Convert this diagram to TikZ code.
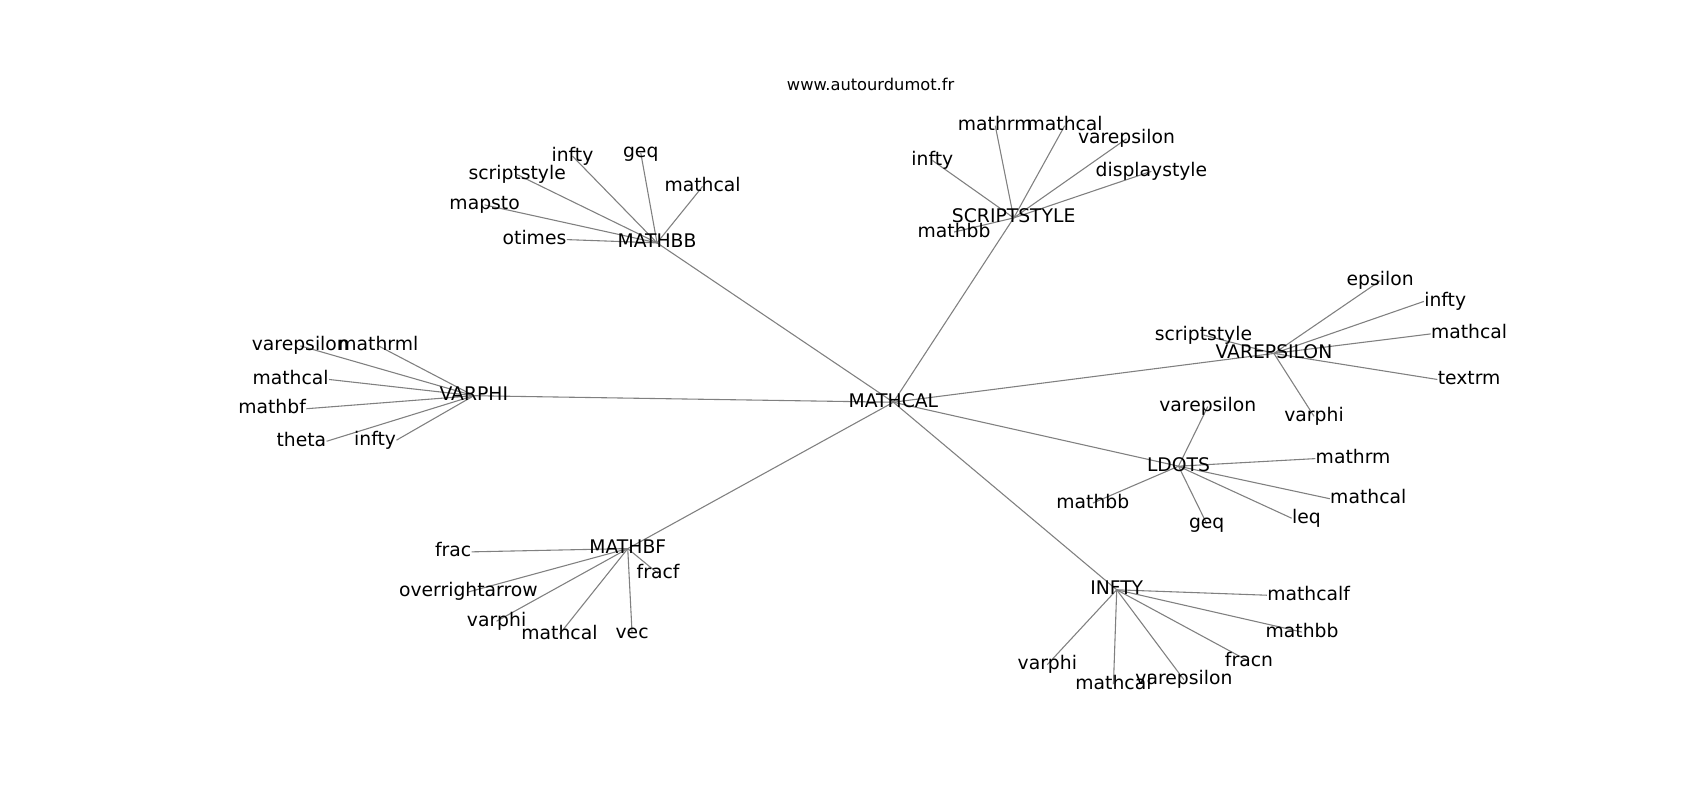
\documentclass[tikz,border=0pt]{standalone}
\usepackage{fontspec}
\setmainfont{DejaVu Sans}
\pgfdeclarelayer{background}
\pgfsetlayers{background,main}
\tikzstyle{word}=[inner sep=0pt, text height=6.6pt, text depth=2pt, font=\fontsize{8.65}{10}\selectfont]
\tikzstyle{link}=[draw=gray, line width=0.5pt]

\begin{document}
\begin{tikzpicture}[x=0.5pt, y=-0.5pt]
  \useasboundingbox (0,0) rectangle (1568,738);
  \node[inner sep=0pt, font=\fontsize{7.5}{9}\selectfont] (title) at (803,77.5) {www.autourdumot.fr};

  % hubs
  \node[word] (mathcal) at (824,371) {MATHCAL};
  \node[word] (mathbb) at (606,224) {MATHBB};
  \node[word] (scriptstyle) at (935,201) {SCRIPTSTYLE};
  \node[word] (varphi) at (437,365) {VARPHI};
  \node[word] (varepsilon) at (1175,326) {VAREPSILON};
  \node[word] (ldots) at (1087,430) {LDOTS};
  \node[word] (mathbf) at (579,506) {MATHBF};
  \node[word] (infty) at (1030,544) {INFTY};

  % MATHBB
  \node[word] (bb-infty) at (528,144) {infty};
  \node[word] (bb-geq) at (591,141) {geq};
  \node[word] (bb-scriptstyle) at (477,161) {scriptstyle};
  \node[word] (bb-mathcal) at (648,172) {mathcal};
  \node[word] (bb-mapsto) at (447,189) {mapsto};
  \node[word] (bb-otimes) at (493,221) {otimes};

  % SCRIPTSTYLE
  \node[word] (ss-mathrm) at (918,116) {mathrm};
  \node[word] (ss-mathcal) at (982,116) {mathcal};
  \node[word] (ss-varepsilon) at (1039,128) {varepsilon};
  \node[word] (ss-infty) at (860,148) {infty};
  \node[word] (ss-displaystyle) at (1062,158) {displaystyle};
  \node[word] (ss-mathbb) at (880,214) {mathbb};

  % VARPHI
  \node[word] (vp-varepsilon) at (277,319) {varepsilon};
  \node[word] (vp-mathrml) at (349,319) {mathrml};
  \node[word] (vp-mathcal) at (268,350) {mathcal};
  \node[word] (vp-mathbf) at (251,377) {mathbf};
  \node[word] (vp-theta) at (278,407) {theta};
  \node[word] (vp-infty) at (346,406) {infty};

  % VAREPSILON
  \node[word] (ve-scriptstyle) at (1110,309) {scriptstyle};
  \node[word] (ve-epsilon) at (1273,259) {epsilon};
  \node[word] (ve-infty) at (1333,278) {infty};
  \node[word] (ve-mathcal) at (1355,308) {mathcal};
  \node[word] (ve-textrm) at (1355,350) {textrm};
  \node[word] (ve-varphi) at (1212,384) {varphi};

  % LDOTS
  \node[word] (ld-varepsilon) at (1114,375) {varepsilon};
  \node[word] (ld-mathrm) at (1248,423) {mathrm};
  \node[word] (ld-mathcal) at (1262,460) {mathcal};
  \node[word] (ld-leq) at (1205,478) {leq};
  \node[word] (ld-geq) at (1113,483) {geq};
  \node[word] (ld-mathbb) at (1008,464) {mathbb};

  % MATHBF
  \node[word] (bf-frac) at (418,509) {frac};
  \node[word] (bf-overrightarrow) at (432,546) {overrightarrow};
  \node[word] (bf-fracf) at (607,529) {fracf};
  \node[word] (bf-varphi) at (458,573) {varphi};
  \node[word] (bf-mathcal) at (516,585) {mathcal};
  \node[word] (bf-vec) at (583,584) {vec};

  % INFTY
  \node[word] (in-mathcalf) at (1207,549) {mathcalf};
  \node[word] (in-mathbb) at (1201,583) {mathbb};
  \node[word] (in-fracn) at (1152,610) {fracn};
  \node[word] (in-varphi) at (966,613) {varphi};
  \node[word] (in-varepsilon) at (1092,627) {varepsilon};
  \node[word] (in-mathcal) at (1027,631) {mathcal};

  \begin{pgfonlayer}{background}
    \draw[link] (mathcal.center) -- (mathbb.center);
    \draw[link] (mathcal.center) -- (scriptstyle.center);
    \draw[link] (mathcal.center) -- (varphi.center);
    \draw[link] (mathcal.center) -- (varepsilon.center);
    \draw[link] (mathcal.center) -- (ldots.center);
    \draw[link] (mathcal.center) -- (mathbf.center);
    \draw[link] (mathcal.center) -- (infty.center);

    \draw[link] (mathbb.center) -- (bb-infty.center);
    \draw[link] (mathbb.center) -- (bb-geq.center);
    \draw[link] (mathbb.center) -- (bb-scriptstyle.center);
    \draw[link] (mathbb.center) -- (bb-mathcal.center);
    \draw[link] (mathbb.center) -- (bb-mapsto.center);
    \draw[link] (mathbb.center) -- (bb-otimes.east);

    \draw[link] (scriptstyle.center) -- (ss-mathrm.center);
    \draw[link] (scriptstyle.center) -- (ss-mathcal.center);
    \draw[link] (scriptstyle.center) -- (ss-varepsilon.center);
    \draw[link] (scriptstyle.center) -- (ss-infty.center);
    \draw[link] (scriptstyle.center) -- (ss-displaystyle.center);
    \draw[link] (scriptstyle.center) -- (ss-mathbb.center);

    \draw[link] (varphi.center) -- (vp-varepsilon.center);
    \draw[link] (varphi.center) -- (vp-mathrml.center);
    \draw[link] (varphi.center) -- (vp-mathcal.east);
    \draw[link] (varphi.center) -- (vp-mathbf.east);
    \draw[link] (varphi.center) -- (vp-theta.east);
    \draw[link] (varphi.center) -- (vp-infty.east);

    \draw[link] (varepsilon.center) -- (ve-scriptstyle.center);
    \draw[link] (varepsilon.center) -- (ve-epsilon.center);
    \draw[link] (varepsilon.center) -- (ve-infty.west);
    \draw[link] (varepsilon.center) -- (ve-mathcal.west);
    \draw[link] (varepsilon.center) -- (ve-textrm.west);
    \draw[link] (varepsilon.center) -- (ve-varphi.center);

    \draw[link] (ldots.center) -- (ld-varepsilon.center);
    \draw[link] (ldots.center) -- (ld-mathrm.west);
    \draw[link] (ldots.center) -- (ld-mathcal.west);
    \draw[link] (ldots.center) -- (ld-leq.west);
    \draw[link] (ldots.center) -- (ld-geq.center);
    \draw[link] (ldots.center) -- (ld-mathbb.center);

    \draw[link] (mathbf.center) -- (bf-frac.east);
    \draw[link] (mathbf.center) -- (bf-overrightarrow.center);
    \draw[link] (mathbf.center) -- (bf-fracf.center);
    \draw[link] (mathbf.center) -- (bf-varphi.center);
    \draw[link] (mathbf.center) -- (bf-mathcal.center);
    \draw[link] (mathbf.center) -- (bf-vec.center);

    \draw[link] (infty.center) -- (in-mathcalf.west);
    \draw[link] (infty.center) -- (in-mathbb.center);
    \draw[link] (infty.center) -- (in-fracn.center);
    \draw[link] (infty.center) -- (in-varphi.center);
    \draw[link] (infty.center) -- (in-varepsilon.center);
    \draw[link] (infty.center) -- (in-mathcal.center);
  \end{pgfonlayer}
\end{tikzpicture}
\end{document}
